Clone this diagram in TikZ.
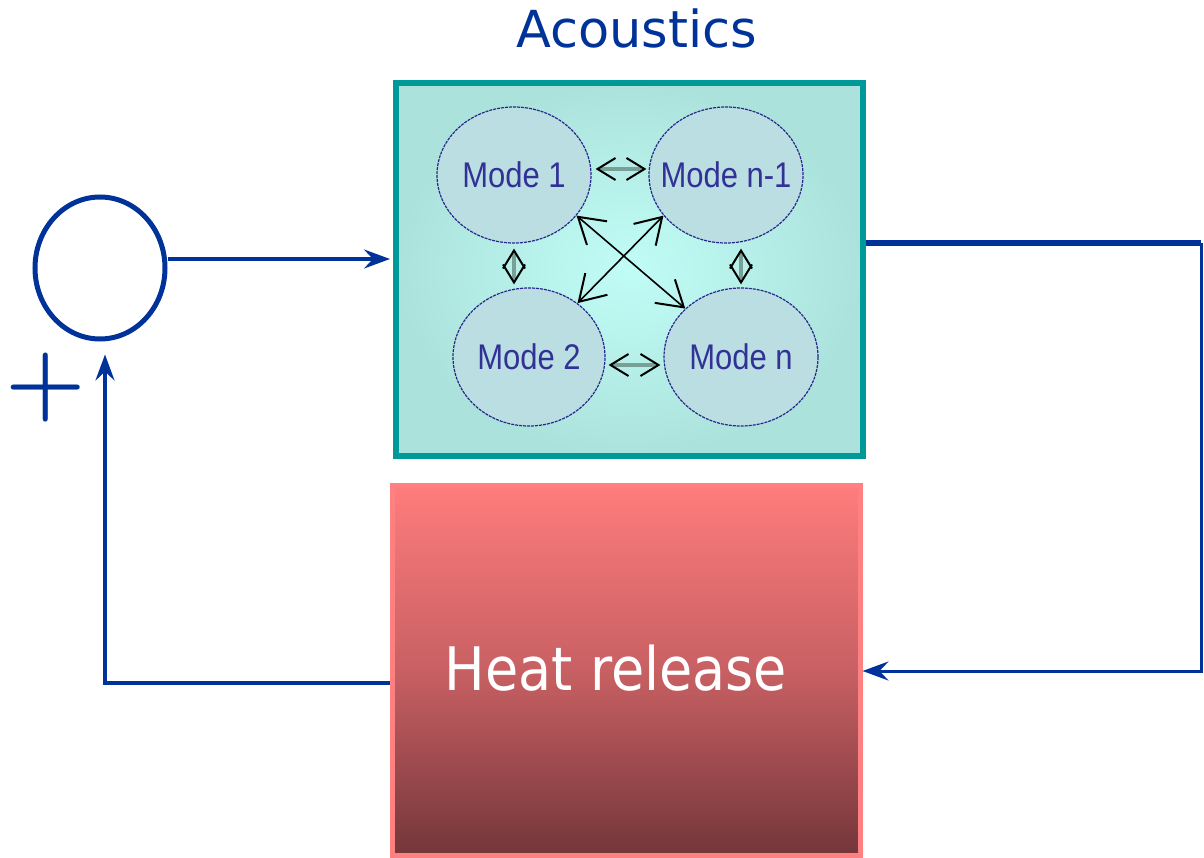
\documentclass[tikz,border=0pt]{standalone}
\usepackage{graphicx}
\usepackage{fontspec}
\newfontfamily\arialf{Liberation Sans}
\newfontfamily\tahf{DejaVu Sans}
\newfontfamily\tahcf[FakeStretch=0.9]{DejaVu Sans}
\usetikzlibrary{arrows.meta,shapes.geometric}
\definecolor{lineblue}{RGB}{0,51,153}
\definecolor{tealedge}{RGB}{0,153,153}
\definecolor{accenter}{RGB}{192,253,246}
\definecolor{acedge}{RGB}{172,226,220}
\definecolor{modefill}{RGB}{186,222,226}
\definecolor{modeline}{RGB}{40,40,140}
\definecolor{modetext}{RGB}{50,50,150}
\definecolor{shaftgray}{RGB}{120,160,150}
\definecolor{heattop}{RGB}{255,124,124}
\definecolor{heatmid}{RGB}{200,96,99}
\definecolor{heatbot}{RGB}{116,54,58}
\definecolor{heatedge}{RGB}{255,128,128}
\newcommand{\mtext}[1]{\makebox[0pt]{\scalebox{1}[1.15]{#1}}}
\tikzset{
  conn/.style={draw=lineblue, line width=3.5pt, -{Stealth[length=26pt,width=19pt,inset=9pt]}},
  mode/.style={ellipse, draw=modeline, fill=modefill, line width=1.2pt, dash pattern=on 3pt off 1pt,
    minimum width=154pt, minimum height=136pt, inner sep=0pt, text=modetext,
    font=\arialf\fontsize{31}{36}\selectfont},
  dbltip/.tip={Straight Barb[color=black, line width=2pt, length=18pt, width=22pt]},
  dblarrow/.style={draw=shaftgray, line width=3.5pt, dbltip-dbltip},
  diagtip/.tip={Straight Barb[line width=2pt, length=25pt, width=31pt]},
  diagarrow/.style={draw=black, line width=1.6pt, diagtip-diagtip}
}
\begin{document}
\begin{tikzpicture}[x=1pt, y=-1pt]
\useasboundingbox (0,0) rectangle (1204,858);
\fill[white] (0,0) rectangle (1204,858);

% title
\node[anchor=base, text=lineblue, font=\tahf\fontsize{51}{60}\selectfont, inner sep=0pt] (title) at (636.5,48) {Acoustics};

% acoustics box
\node[draw=tealedge, line width=6pt, inner sep=0pt, minimum width=467pt, minimum height=373pt,
  inner color=accenter, outer color=acedge] (ac) at (629.5,269.5) {};

% heat release box
\node[draw=heatedge, line width=5pt, inner sep=0pt, minimum width=468pt, minimum height=370pt,
  top color=heattop, bottom color=heatbot, middle color=heatmid] (heat) at (626,670) {};
\node[anchor=base, text=white, font=\tahcf\fontsize{60}{70}\selectfont, inner sep=0pt] (heattxt) at (616,690) {Heat release};

% modes
\node[mode] (m1) at (514,175) {\mtext{Mode 1}};
\node[mode] (mn1) at (726,175) {\mtext{Mode n-1}};
\node[mode, minimum width=152pt, minimum height=138pt] (m2) at (529,357) {\mtext{Mode 2}};
\node[mode, minimum height=138pt] (mn) at (741,357) {\mtext{Mode n}};

% arrows between modes
\draw[dblarrow, shorten <=4pt, shorten >=2pt] ([yshift=6pt]m1.east) -- ([yshift=6pt]mn1.west);
\draw[dblarrow, shorten <=3pt, shorten >=3pt] ([yshift=-8pt]m2.east) -- ([yshift=-8pt]mn.west);
\draw[dblarrow, shorten <=5pt, shorten >=3pt] (m1.south) -- (m1.south |- m2.north);
\draw[dblarrow, shorten <=5pt, shorten >=3pt] (mn.north |- mn1.south) -- (mn.north);
\draw[diagarrow] (m1.-33) -- (mn.139);
\draw[diagarrow] (mn1.213) -- (m2.48);

% summing junction
\node[ellipse, draw=lineblue, line width=5pt, minimum width=130pt, minimum height=142pt, inner sep=0pt] (sum) at (100,268) {};
\node[anchor=base, text=lineblue, inner sep=0pt, font=\bfseries\fontsize{92}{100}\selectfont] (plus) at (46,410) {+};

% connectors
\draw[conn, shorten >=3pt] ([yshift=9pt]sum.east) -- ([yshift=9pt]sum.east -| ac.west);
\coordinate (o1) at (1201,243);
\coordinate (o2) at (1201,671);
\coordinate (fb) at (105,683);
\draw[draw=lineblue, line width=6pt] (o1 -| ac.east) -- (o1);
\draw[conn, line width=3pt] (o1) -- (o2) -- (o2 -| heat.east);
\draw[conn, shorten >=13pt] (fb -| heat.west) -- (fb) -- (fb |- sum.south);
\end{tikzpicture}
\end{document}
